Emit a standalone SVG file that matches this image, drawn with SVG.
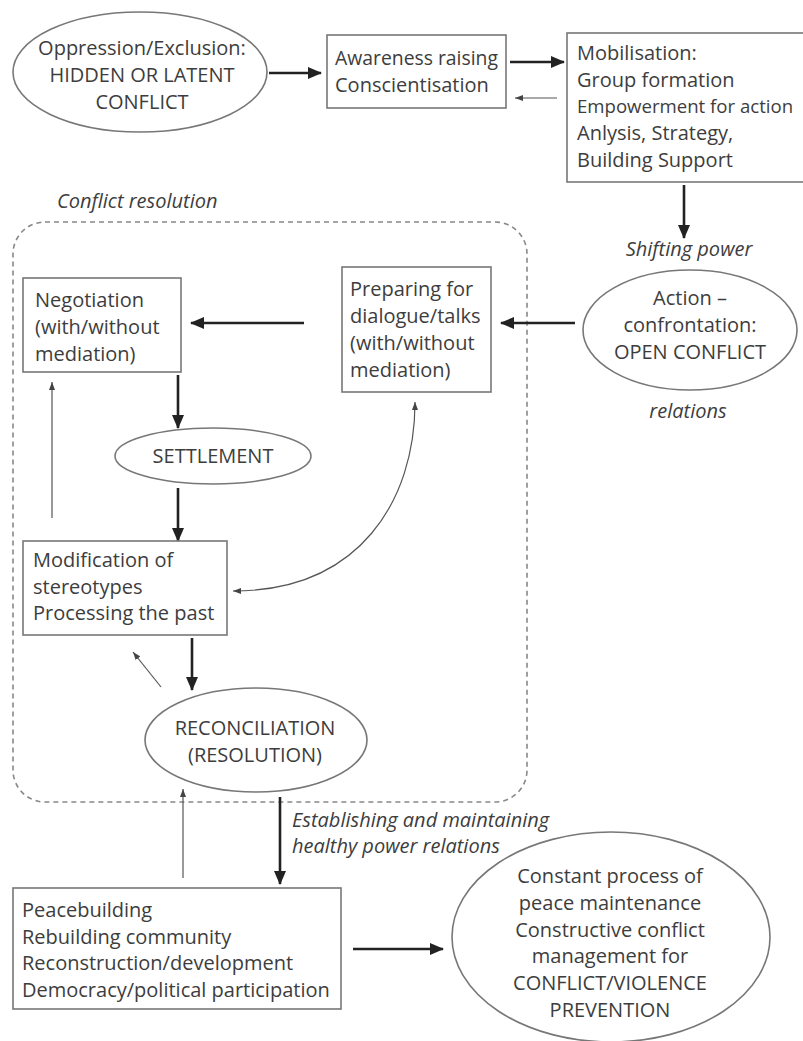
<svg xmlns="http://www.w3.org/2000/svg" width="803" height="1041" viewBox="0 0 803 1041">
<style>
.t{font-family:"Open Sans","Noto Sans","Liberation Sans",sans-serif;font-size:20px;fill:#3d3d3d}
.c{text-anchor:middle}
.i{font-style:italic}
.shape{fill:#fff;stroke:#777;stroke-width:1.6}
.thick{fill:none;stroke:#222;stroke-width:2.6;marker-end:url(#ah)}
.thin{fill:none;stroke:#555;stroke-width:1.2;marker-end:url(#ahs)}
.dash{fill:none;stroke:#888;stroke-width:1.6;stroke-dasharray:5 4}
</style>
<defs>
<marker id="ah" markerUnits="userSpaceOnUse" markerWidth="14" markerHeight="12" refX="13" refY="6" orient="auto"><path d="M0,0 L14,6 L0,12 z" fill="#222"/></marker>
<marker id="ahs" markerUnits="userSpaceOnUse" markerWidth="8" markerHeight="6" refX="8" refY="3" orient="auto-start-reverse"><path d="M0,0 L8,3 L0,6 z" fill="#444"/></marker>
</defs>
<rect width="803" height="1041" fill="#fff"/>

<g id="conflict-resolution-area">
<rect class="dash" x="13" y="222" width="514" height="580" rx="32" ry="32"/>
<text class="t i" x="57" y="208">Conflict resolution</text>
</g>

<g id="connectors">
<path class="thick" d="M269,73 L321,73"/>
<path class="thick" d="M510,62 L564,62"/>
<path class="thin" d="M557,98 L515,98"/>
<path class="thick" d="M684,185 L684,238"/>
<path class="thick" d="M575,323 L501,323"/>
<path class="thick" d="M304,323 L191,323"/>
<path class="thick" d="M178,375 L178,428"/>
<path class="thick" d="M178,488 L178,541"/>
<path class="thin" d="M52,518 L52,382"/>
<path class="thin" style="marker-start:url(#ahs)" d="M415,402 C415,500 360,591 233,591"/>
<path class="thick" d="M192,638 L192,690"/>
<path class="thin" d="M161,687 L133,652"/>
<path class="thin" d="M183,878 L183,789"/>
<path class="thick" d="M280,797 L280,884"/>
<path class="thick" d="M353,949 L443,949"/>
</g>

<g id="oppression">
<ellipse class="shape" cx="140" cy="72" rx="127" ry="60"/>
<text class="t c" x="142" y="55">Oppression/Exclusion:</text>
<text class="t c" x="142" y="82">HIDDEN OR LATENT</text>
<text class="t c" x="142" y="109">CONFLICT</text>
</g>

<g id="awareness">
<rect class="shape" x="327" y="35" width="179" height="73"/>
<text class="t" x="335" y="65" textLength="163" lengthAdjust="spacingAndGlyphs">Awareness raising</text>
<text class="t" x="335" y="92">Conscientisation</text>
</g>

<g id="mobilisation">
<rect class="shape" x="567" y="33" width="250" height="149"/>
<text class="t" x="577" y="60">Mobilisation:</text>
<text class="t" x="577" y="87">Group formation</text>
<text class="t" x="577" y="113" style="font-size:18.6px">Empowerment for action</text>
<text class="t" x="577" y="140">Anlysis, Strategy,</text>
<text class="t" x="577" y="167">Building Support</text>
</g>

<g id="shifting-label">
<text class="t c i" x="689" y="256">Shifting power</text>
</g>

<g id="action">
<ellipse class="shape" cx="690" cy="330" rx="107" ry="60"/>
<text class="t c" x="690" y="305">Action –</text>
<text class="t c" x="690" y="332">confrontation:</text>
<text class="t c" x="690" y="359">OPEN CONFLICT</text>
</g>

<g id="relations-label">
<text class="t c i" x="688" y="418">relations</text>
</g>

<g id="preparing">
<rect class="shape" x="342" y="267" width="149" height="125"/>
<text class="t" x="350" y="296">Preparing for</text>
<text class="t" x="350" y="323">dialogue/talks</text>
<text class="t" x="350" y="350">(with/without</text>
<text class="t" x="350" y="377">mediation)</text>
</g>

<g id="negotiation">
<rect class="shape" x="23" y="278" width="158" height="94"/>
<text class="t" x="35" y="307">Negotiation</text>
<text class="t" x="35" y="334">(with/without</text>
<text class="t" x="35" y="361">mediation)</text>
</g>

<g id="settlement">
<ellipse class="shape" cx="213" cy="456" rx="98" ry="28"/>
<text class="t c" x="213" y="463">SETTLEMENT</text>
</g>

<g id="modification">
<rect class="shape" x="23" y="541" width="204" height="94"/>
<text class="t" x="33" y="567">Modification of</text>
<text class="t" x="33" y="594">stereotypes</text>
<text class="t" x="33" y="620">Processing the past</text>
</g>

<g id="reconciliation">
<ellipse class="shape" cx="256" cy="740" rx="111" ry="52"/>
<text class="t c" x="255" y="735">RECONCILIATION</text>
<text class="t c" x="255" y="762">(RESOLUTION)</text>
</g>

<g id="establishing-label">
<text class="t i" x="292" y="827">Establishing and maintaining</text>
<text class="t i" x="292" y="853">healthy power relations</text>
</g>

<g id="peacebuilding">
<rect class="shape" x="13" y="888" width="328" height="121"/>
<text class="t" x="22" y="917">Peacebuilding</text>
<text class="t" x="22" y="944">Rebuilding community</text>
<text class="t" x="22" y="970">Reconstruction/development</text>
<text class="t" x="22" y="997">Democracy/political participation</text>
</g>

<g id="constant-process">
<ellipse class="shape" cx="611" cy="937" rx="159" ry="105"/>
<text class="t c" x="610" y="883">Constant process of</text>
<text class="t c" x="610" y="910">peace maintenance</text>
<text class="t c" x="610" y="937">Constructive conflict</text>
<text class="t c" x="610" y="963">management for</text>
<text class="t c" x="610" y="990">CONFLICT/VIOLENCE</text>
<text class="t c" x="610" y="1017">PREVENTION</text>
</g>
</svg>
